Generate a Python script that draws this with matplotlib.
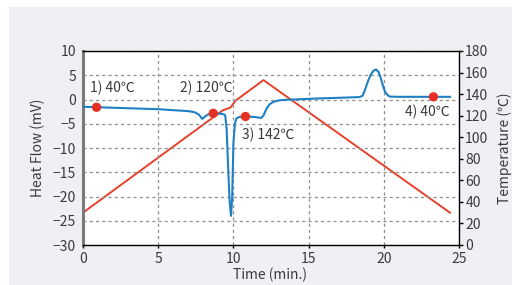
import matplotlib
matplotlib.use("Agg")
import matplotlib.pyplot as plt
from matplotlib.patches import Rectangle

plt.rcParams['font.family'] = ['Noto Sans CJK JP', 'DejaVu Sans']

# Heat flow (mV) vs time (min.)
hf_time = [0.0, 1.0, 3.0, 5.0, 7.0, 7.4, 7.7, 7.93, 8.15, 8.35, 8.66, 9.0, 9.3, 9.45, 9.55, 9.65,
           9.75, 9.84, 9.92, 10.0, 10.1, 10.2, 10.4, 10.8, 11.4, 11.85, 12.0, 12.2, 12.4, 12.65,
           13.0, 13.3, 14.0, 15.5, 17.0, 18.4, 18.6, 18.75, 18.95, 19.1, 19.3, 19.48, 19.65,
           19.8, 19.95, 20.08, 20.25, 20.4, 21.0, 22.0, 23.3, 24.4]
hf_vals = [-1.5, -1.6, -1.8, -2.0, -2.4, -2.6, -3.1, -4.0, -3.4, -3.05, -2.85, -2.9, -3.0, -3.2, -6.0, -14.0,
           -21.0, -24.0, -20.0, -9.0, -5.0, -3.9, -3.6, -3.5, -3.6, -3.8, -3.3, -1.9, -1.0, -0.5,
           -0.2, -0.1, 0.0, 0.2, 0.35, 0.5, 0.8, 2.0, 3.8, 4.9, 5.9, 6.2, 5.7,
           4.4, 2.8, 1.6, 0.9, 0.6, 0.55, 0.55, 0.55, 0.55]

# Temperature (deg C) vs time (min.)
temp_time = [0.0, 9.3, 9.8, 10.15, 12.0, 24.4]
temp_vals = [30.0, 125.0, 127.5, 134.0, 153.0, 30.0]

# Marked points
pt_time = [0.9, 8.66, 10.8, 23.3]
pt_hf = [-1.6, -2.85, -3.5, 0.55]
pt_labels = ["1) 40℃", "2) 120℃", "3) 142℃", "4) 40℃"]
lbl_x = [0.47, 6.45, 10.6, 21.4]
lbl_y = [2.4, 2.4, -7.3, -2.6]

x_ticks = [0, 5, 10, 15, 20, 25]
hf_ticks = [-30, -25, -20, -15, -10, -5, 0, 5, 10]
temp_ticks = [0, 20, 40, 60, 80, 100, 120, 140, 160, 180]

blue = "#1f80c4"
red = "#e8402a"
txt = "#3a3a3a"

fig = plt.figure(figsize=(5.12, 2.85), dpi=100)
fig.patch.set_facecolor("white")
fig.patches.append(Rectangle((9/512, 0), 1 - 9/512, 1 - 7/285, transform=fig.transFigure,
                             facecolor="#eef0f4", edgecolor="none", zorder=-10))

ax = fig.add_axes([83/512, 40/285, 376/512, 194/285])
ax.set_xlim(0, 25)
ax.set_ylim(-30, 10)
ax.set_xticks(x_ticks)
ax.set_yticks(hf_ticks)
ax.grid(True, color="#8f8f8f", linestyle=(0, (2.5, 2.5)), linewidth=0.9)
ax.tick_params(axis='y', length=0, labelsize=10, labelcolor=txt, pad=5)
ax.tick_params(axis='x', length=2, width=1, direction='out', color="black",
               labelsize=10, labelcolor=txt, pad=3)
for s in ["top", "bottom"]:
    ax.spines[s].set_color("black")
    ax.spines[s].set_linewidth(1.0)
ax.spines["left"].set_color("#7a7a7a")
ax.spines["left"].set_linewidth(2.2)
ax.spines["right"].set_visible(False)

ax2 = ax.twinx()
ax2.set_ylim(0, 180)
ax2.set_yticks(temp_ticks)
ax2.tick_params(axis='y', length=3, width=1, direction='out', color="black",
                labelsize=10, labelcolor=txt, pad=1.5)
for s in ["top", "bottom", "left"]:
    ax2.spines[s].set_visible(False)
ax2.spines["right"].set_color("black")
ax2.spines["right"].set_linewidth(1.0)
ax2.plot(temp_time, temp_vals, color=red, linewidth=1.4, zorder=3)

# z-order: ax2 (white background + red line) below ax (grid, blue line, points)
ax2.set_zorder(1)
ax2.patch.set_visible(True)
ax2.patch.set_facecolor("white")
ax.set_zorder(2)
ax.patch.set_visible(False)

ax.plot(hf_time, hf_vals, color=blue, linewidth=1.5, zorder=4)
ax.scatter(pt_time, pt_hf, s=45, color="#e52f22", zorder=6, edgecolors="none")
for x, y, t in zip(lbl_x, lbl_y, pt_labels):
    ax.text(x, y, t, fontsize=10, color=txt, ha="left", va="center", zorder=7)

fig.text(38/512, 1 - 148/285, "Heat Flow (mV)", rotation=90, ha="center", va="center",
         fontsize=10, color=txt)
fig.text(505/512, 1 - 148/285, "Temperature (℃)", rotation=90, ha="center", va="center",
         fontsize=10, color=txt)
fig.text(270/512, 1 - 275/285, "Time (min.)", ha="center", va="center", fontsize=10, color=txt)

fig.savefig("out.png", dpi=100)
